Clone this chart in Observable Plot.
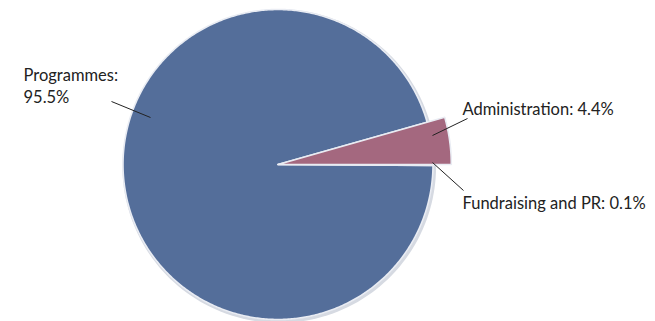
<!DOCTYPE html>
<html><head><meta charset="utf-8">
<script src="https://cdn.jsdelivr.net/npm/d3@7"></script>
<script src="https://cdn.jsdelivr.net/npm/@observablehq/plot@0.6"></script>
<style>body{margin:0;background:#fff}#chart svg{display:block}</style>
</head><body><div id="chart"></div>
<script>
// Data
const categories = ["Administration", "Fundraising and PR", "Programmes"];
const shares = [4.4, 0.1, 95.5];
const labels = ["Administration: 4.4%", "Fundraising and PR: 0.1%", "Programmes:\n95.5%"];
const colors = ["#a4687f", "#dde3ec", "#546e9a"];

// Layout (pixels)
const W = 655, H = 321, CX = 277.5, CY = 164, R = 155;
const toX = px => (px - CX) / R;
const toY = py => (CY - py) / R;

// Slice polygons (angles clockwise from 12 o'clock, d3 convention)
const total = d3.sum(shares);
const startAngle = Math.PI / 2 - 2 * Math.PI * shares[0] / total;
const pts = [];
const order = [2, 1, 0]; // draw programmes first, administration last
const spans = shares.map(v => 2 * Math.PI * v / total);
const starts = [];
{ let s = startAngle; for (let i = 0; i < shares.length; i++) { starts.push(s); s += spans[i]; } }
for (const i of order) {
  const a0 = starts[i], a1 = a0 + spans[i];
  const rr = i === 0 ? 1.118 : 1;
  pts.push({cat: categories[i], x: 0, y: 0});
  const n = Math.max(2, Math.ceil((a1 - a0) / 0.01));
  for (let k = 0; k <= n; k++) {
    const t = a0 + (a1 - a0) * k / n;
    pts.push({cat: categories[i], x: rr * Math.sin(t), y: rr * Math.cos(t)});
  }
}
// soft shadow ring
const shadow = d3.range(0, 361, 2).map(d => ({x: 1.012 * Math.sin(d * Math.PI / 180) + 0.008, y: 1.012 * Math.cos(d * Math.PI / 180) - 0.01}));

const leaders = [
  {x1: toX(467), y1: toY(118), x2: toX(432), y2: toY(135)},
  {x1: toX(432), y1: toY(162), x2: toX(463), y2: toY(190)},
  {x1: toX(111), y1: toY(101), x2: toX(150), y2: toY(117)}
];
const textPos = [
  {label: labels[0], x: toX(462), y: toY(114)},
  {label: labels[1], x: toX(462), y: toY(208)},
  {label: labels[2], x: toX(23), y: toY(102)}
];

const chart = Plot.plot({
  width: W, height: H,
  margin: 0,
  x: {domain: [toX(0), toX(W)], axis: null},
  y: {domain: [toY(H), toY(0)], axis: null},
  color: {domain: categories, range: colors},
  style: {fontFamily: "Lato, sans-serif", background: "#fff"},
  marks: [
    Plot.line(shadow, {x: "x", y: "y", fill: "#d6dae2", stroke: "none", curve: "linear-closed"}),
    Plot.line(pts, {x: "x", y: "y", z: "cat", fill: "cat", stroke: "#e9ecf3", strokeWidth: 1.6, curve: "linear-closed"}),
    Plot.link(leaders, {x1: "x1", y1: "y1", x2: "x2", y2: "y2", stroke: "#222", strokeWidth: 1}),
    Plot.text(textPos, {x: "x", y: "y", text: "label", textAnchor: "start", lineAnchor: "bottom", lineHeight: 1.3, fontSize: 16.5, fill: "#222"})
  ]
});
document.getElementById("chart").appendChild(chart);
</script>
</body></html>
